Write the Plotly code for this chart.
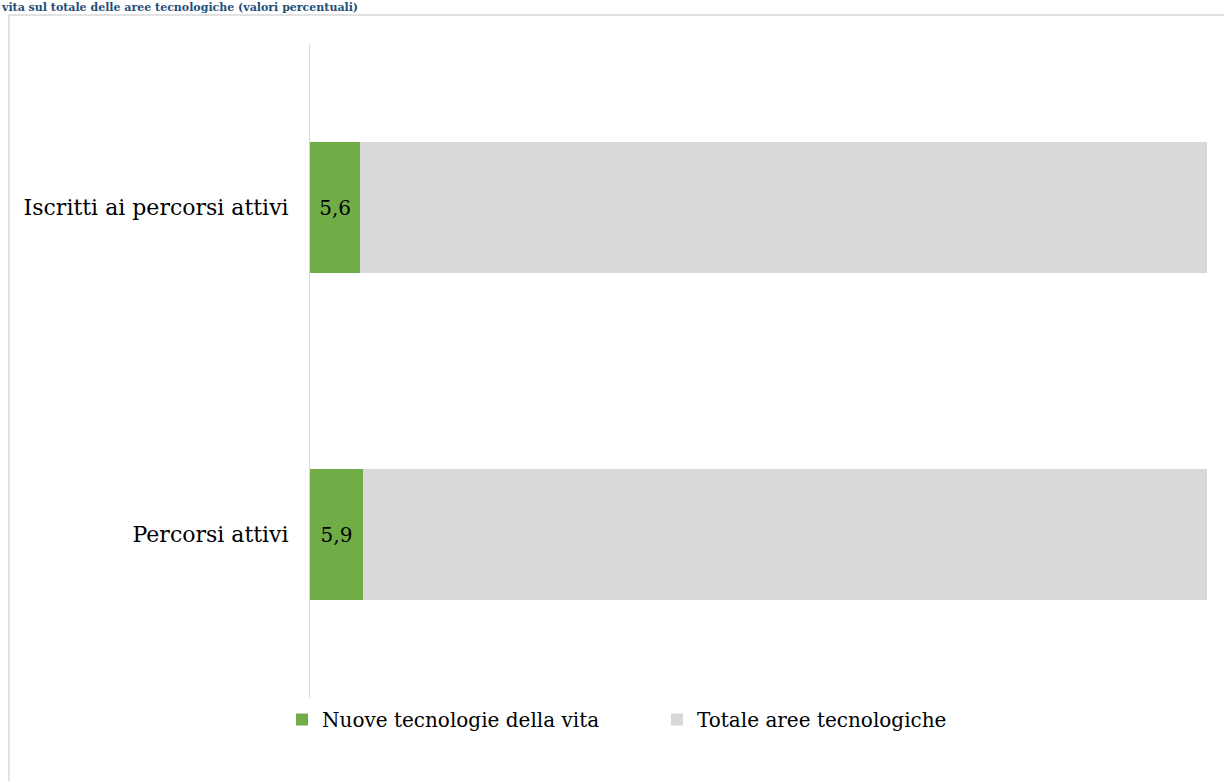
import plotly.graph_objects as go

categories = ["Percorsi attivi", "Iscritti ai percorsi attivi"]
nuove_tecnologie = [5.9, 5.6]
totale_aree = [100 - v for v in nuove_tecnologie]
labels_nuove = ["5,9", "5,6"]
series_names = ["Nuove tecnologie della vita", "Totale aree tecnologiche"]
title_text = "vita sul totale delle aree tecnologiche (valori percentuali)"

FONT = "DejaVu Serif"
W, H = 1224, 781
L, R, T, B = 310, 17, 44, 83
pw, ph = W - L - R, H - T - B

def px_x(p):
    return (p - L) / pw

def px_y(p):
    return (H - B - p) / ph

fig = go.Figure()
fig.add_trace(go.Bar(
    y=categories, x=nuove_tecnologie, orientation="h", name=series_names[0],
    marker=dict(color="#70AD47", line=dict(width=0)),
    text=labels_nuove, textposition="inside", insidetextanchor="middle",
    textfont=dict(family=FONT, size=20, color="#000000"),
    constraintext="none",
    hoverinfo="skip",
))
fig.add_trace(go.Bar(
    y=categories, x=totale_aree, orientation="h", name=series_names[1],
    marker=dict(color="#D9D9D9", line=dict(width=0)),
    hoverinfo="skip",
))

fig.update_layout(
    width=W, height=H,
    barmode="stack", bargap=0.6,
    uniformtext=dict(minsize=20, mode="show"),
    margin=dict(l=L, r=R, t=T, b=B, pad=0),
    paper_bgcolor="white", plot_bgcolor="white",
    font=dict(family=FONT, size=20, color="#000000"),
    showlegend=True,
    legend=dict(orientation="h", x=px_x(282), xanchor="left", y=px_y(700), yanchor="top",
                font=dict(family=FONT, size=20, color="#000000"),
                itemwidth=30, traceorder="normal", tracegroupgap=0,
                entrywidth=330, entrywidthmode="pixels"),
    xaxis=dict(range=[0, 100], showgrid=False, showticklabels=False, zeroline=False,
               showline=False, ticks=""),
    yaxis=dict(showgrid=False, showline=True, linecolor="#D9D9D9", linewidth=1,
               ticks="", ticklabelstandoff=16, tickfont=dict(family=FONT, size=22),
               zeroline=False),
)

fig.add_shape(type="rect", xref="paper", yref="paper",
              x0=px_x(9), x1=px_x(1260), y0=px_y(15), y1=px_y(800),
              line=dict(color="#D9D9D9", width=1.5), fillcolor="rgba(0,0,0,0)", layer="below")

fig.add_annotation(text="<b>" + title_text + "</b>", xref="paper", yref="paper",
                   x=px_x(0), xanchor="left", y=px_y(0), yanchor="top",
                   showarrow=False, borderpad=0,
                   font=dict(family=FONT, size=11, color="#1F4E79"))

fig.write_html("out.html", config={"displayModeBar": False},
               post_script="document.body.style.margin='0';document.body.style.padding='0';")
